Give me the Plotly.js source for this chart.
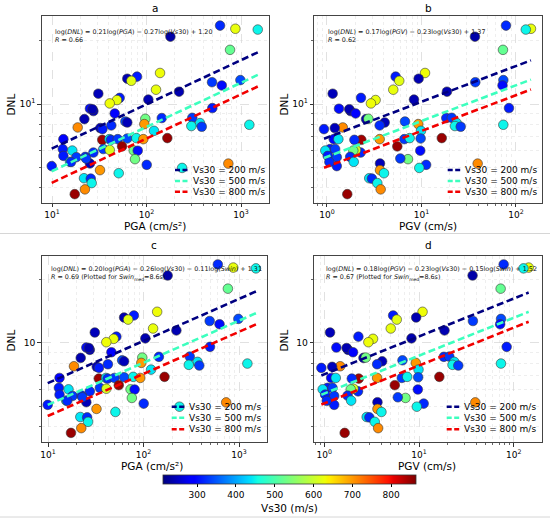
<!DOCTYPE html>
<html><head><meta charset="utf-8">
<script src="https://cdn.plot.ly/plotly-3.0.1.min.js"></script>
<style>body{margin:0;background:#fff}#chart{width:550px;height:521px}</style>
</head><body><div id="chart"></div>
<script>
// ---- data ----
const pga = [600, 871, 1503, 179, 765, 139, 79.3, 62.6, 69.0, 493, 984, 625, 126, 221, 30.9, 52.0, 48.7, 104.5, 40.8, 25.2,
  27.4, 26.8, 46.1, 22.0, 97.1, 145, 305, 59.7, 62.6, 94.8, 18.7, 42.4, 32.4, 34.2, 368, 298, 384, 1224, 497, 120,
  166, 13.2, 34.0, 40.4, 42.1, 49.6, 62.6, 78.0, 92.5, 55.1, 13.0, 16.4, 34.9, 27.4, 40.8, 73.2, 80.7, 13.2, 18.1, 75.5,
  22.5, 25.2, 15.5, 9.93, 100.5, 238, 734, 32.2, 50.8, 21.8, 25.7, 26.3, 22.3, 17.4, 15.9, 22.9];
const pgv = [78.4, 144, 127, 36.8, 72.8, 10.9, 5.33, 9.33, 5.82, 37.1, 73.5, 72.0, 5.03, 18.6, 1.149, 2.29, 3.27, 8.33, 2.92, 1.34,
  1.78, 1.72, 2.01, 2.59, 2.74, 18.3, 20.9, 6.69, 4.08, 9.25, 1.47, 3.61, 1.21, 0.93, 23.6, 22.6, 26.0, 73.4, 84.3, 9.88,
  16.4, 1.18, 2.31, 1.32, 1.95, 6.58, 9.8, 7.50, 3.61, 5.55, 1.08, 0.96, 1.22, 2.27, 2.03, 1.90, 9.71, 1.02, 1.27, 7.20,
  1.76, 3.64, 1.92, 1.27, 11.2, 9.48, 39.3, 3.64, 4.01, 2.80, 2.99, 3.41, 3.70, 1.64, 1.06, 5.97];
const dnl = [23.6, 22.8, 22.6, 20.9, 18.1, 14.05, 13.5, 13.2, 12.9, 12.7, 13.0, 12.26, 11.7, 11.45, 11.2, 10.7, 10.45, 10.5, 10.07, 9.50,
  9.26, 9.45, 9.02, 8.48, 8.51, 8.58, 8.60, 8.26, 8.17, 8.03, 7.74, 7.91, 7.69, 7.60, 8.12, 7.86, 7.80, 7.97, 9.57, 7.46,
  6.89, 6.81, 6.76, 6.81, 6.76, 6.81, 6.86, 6.89, 6.81, 6.29, 6.11, 6.01, 6.11, 5.88, 6.05, 6.01, 6.00, 5.67, 5.59, 5.47,
  5.61, 5.22, 5.31, 5.07, 5.14, 4.97, 5.21, 4.85, 4.69, 4.44, 4.42, 4.21, 3.93, 3.73, 5.30, 5.51];
const vs30 = [320, 625, 450, 235, 520, 630, 310, 240, 620, 330, 340, 300, 625, 240, 245, 310, 625, 240, 630, 300,
  245, 240, 290, 240, 530, 320, 330, 340, 245, 700, 710, 320, 245, 310, 440, 450, 330, 450, 310, 440,
  850, 290, 845, 440, 320, 330, 340, 450, 700, 850, 310, 440, 330, 320, 610, 530, 300, 310, 330, 530,
  320, 245, 440, 310, 320, 450, 710, 700, 450, 440, 320, 450, 710, 850, 320, 330];

const lineVs30 = [200, 500, 800];
const lineColors = ['#000080', '#3cffbe', '#f20000'];
// regression coefficients shown on the chart: [x, Vs30, Swin, constant]
const fitA = [0.21, -0.27, 0, 1.20];
const fitB = [0.17, -0.23, 0, 1.37];
const fitC = [0.20, -0.26, -0.11, 1.31];
const fitD = [0.18, -0.23, -0.15, 1.52];
const swinMed = 8.6;

const xTicksPGA = [10, 100, 1000];
const xTickTextPGA = ['10<sup>1</sup>', '10<sup>2</sup>', '10<sup>3</sup>'];
const xMinorPGA = [20, 30, 40, 50, 60, 70, 80, 90, 200, 300, 400, 500, 600, 700, 800, 900, 2000];
const xTicksPGV = [1, 10, 100];
const xTickTextPGV = ['10<sup>0</sup>', '10<sup>1</sup>', '10<sup>2</sup>'];
const xMinorPGV = [0.8, 0.9, 2, 3, 4, 5, 6, 7, 8, 9, 20, 30, 40, 50, 60, 70, 80, 90];
const yTicks = [10];
const yTickTextTop = ['10<sup>1</sup>'];
const yTickTextBottom = ['10'];
const yMinor = [3, 4, 5, 6, 7, 8, 9, 20];
const cbTicks = [300, 400, 500, 600, 700, 800];

const jet = [[0, 'rgb(0,0,128)'], [0.11, 'rgb(0,0,255)'], [0.125, 'rgb(0,0,255)'], [0.34, 'rgb(0,219,255)'],
  [0.35, 'rgb(0,229,246)'], [0.375, 'rgb(20,255,226)'], [0.64, 'rgb(238,255,8)'], [0.65, 'rgb(246,245,0)'],
  [0.66, 'rgb(255,236,0)'], [0.89, 'rgb(255,18,0)'], [0.91, 'rgb(231,0,0)'], [1, 'rgb(128,0,0)']];

const W = 550, H = 521;
const px = v => v / W, py = v => 1 - v / H;

function fitLine(xs, fit, vs) {
  const x0 = Math.min(...xs), x1 = Math.max(...xs);
  const f = x => Math.pow(10, fit[0] * Math.log10(x) + fit[1] * Math.log10(vs) + fit[2] * Math.log10(swinMed) + fit[3]);
  return {x: [x0, x1], y: [f(x0), f(x1)]};
}

const panels = [
  {xs: pga, fit: fitA, xa: 'x', ya: 'y', legX: 175, legY: [170, 181, 191.7]},
  {xs: pgv, fit: fitB, xa: 'x2', ya: 'y2', legX: 447.7, legY: [170, 181, 191.7]},
  {xs: pga, fit: fitC, xa: 'x3', ya: 'y3', legX: 171.7, legY: [406.7, 417.7, 429.3]},
  {xs: pgv, fit: fitD, xa: 'x4', ya: 'y4', legX: 446.7, legY: [406.7, 417.7, 429.3]}
];

const DASH = '7px,3.5px';
const traces = [];
panels.forEach(p => {
  traces.push({
    type: 'scatter', mode: 'markers', x: p.xs, y: dnl, xaxis: p.xa, yaxis: p.ya, showlegend: false,
    marker: {size: 9.6, color: vs30, coloraxis: 'coloraxis', line: {color: '#3a3a3a', width: 0.6}},
    hoverinfo: 'skip'
  });
});
panels.forEach(p => {
  lineVs30.forEach((v, i) => {
    const l = fitLine(p.xs, p.fit, v);
    traces.push({
      type: 'scatter', mode: 'lines', x: l.x, y: l.y, xaxis: p.xa, yaxis: p.ya,
      name: 'Vs30 = ' + v + ' m/s', showlegend: false,
      line: {color: lineColors[i], width: 2.6, dash: DASH}
    });
  });
});

function xax(dom, anchor, range, tv, tt, mv) {
  return {
    type: 'log', domain: dom, anchor: anchor, range: range,
    tickmode: 'array', tickvals: tv, ticktext: tt,
    ticks: 'outside', ticklen: 3.5, tickwidth: 0.8, tickcolor: '#000', tickfont: {size: 9},
    showline: true, mirror: true, linecolor: '#444', linewidth: 1,
    showgrid: true, gridcolor: '#d4d4d4', gridwidth: 0.7, griddash: 'dash',
    minor: {tickmode: 'array', tickvals: mv, ticks: 'outside', ticklen: 2,
      tickcolor: '#000', tickwidth: 0.6, showgrid: true, gridcolor: '#e2e2e2', gridwidth: 0.6, griddash: 'dot'},
    zeroline: false, automargin: false
  };
}
function yax(dom, anchor, range, tt) {
  return {
    type: 'log', domain: dom, anchor: anchor, range: range,
    tickmode: 'array', tickvals: yTicks, ticktext: tt,
    ticks: 'outside', ticklen: 3.5, tickwidth: 0.8, tickcolor: '#000', tickfont: {size: 9.2},
    showline: true, mirror: true, linecolor: '#444', linewidth: 1,
    showgrid: true, gridcolor: '#d4d4d4', gridwidth: 0.7, griddash: 'dash',
    minor: {tickmode: 'array', tickvals: yMinor, ticks: 'outside', ticklen: 2,
      tickcolor: '#000', tickwidth: 0.6, showgrid: true, gridcolor: '#e2e2e2', gridwidth: 0.6, griddash: 'dot'},
    zeroline: false, automargin: false
  };
}

const domAx = [px(41.7), px(269.3)], domBx = [px(314.3), px(541.7)];
const domCx = [px(41.7), px(266.7)], domDx = [px(314.3), px(541.7)];
const domTop = [py(202.7), py(15.7)], domBot = [py(442.3), py(256)];

const eqFont = {size: 6.4, color: '#111'};
const lab = {size: 10.5};
function note(text, x, y, extra) {
  return Object.assign({text: text, x: px(x), y: py(y), xanchor: 'center', yanchor: 'middle',
    xref: 'paper', yref: 'paper', showarrow: false, font: lab}, extra || {});
}
const annotations = [
  note('a', 155, 8.3), note('b', 428, 8.3), note('c', 154, 245), note('d', 428, 245),
  note('PGA (cm/s²)', 155, 226.5), note('PGV (cm/s)', 428, 226.5),
  note('PGA (cm/s²)', 152, 465.5), note('PGV (cm/s)', 426.5, 465.5),
  note('DNL', 10.5, 105, {textangle: -90}), note('DNL', 283.5, 105, {textangle: -90}),
  note('DNL', 10.5, 341, {textangle: -90}), note('DNL', 283.5, 341, {textangle: -90}),
  note('log(<i>DNL</i>) = 0.21log(<i>PGA</i>) − 0.27log(<i>Vs</i>30) + 1.20<br><i>R</i> = 0.66', 53, 25.5,
    {xanchor: 'left', yanchor: 'top', align: 'left', font: eqFont}),
  note('log(<i>DNL</i>) = 0.17log(<i>PGV</i>) − 0.23log(<i>Vs</i>30) + 1.37<br><i>R</i> = 0.62', 325.5, 25.5,
    {xanchor: 'left', yanchor: 'top', align: 'left', font: eqFont}),
  note('log(<i>DNL</i>) = 0.20log(<i>PGA</i>) − 0.26log(<i>Vs</i>30) − 0.11log(<i>Swin</i>) + 1.31<br><i>R</i> = 0.69 (Plotted for <i>Swin</i><sub>med</sub>=8.6s)', 49, 263,
    {xanchor: 'left', yanchor: 'top', align: 'left', font: eqFont}),
  note('log(<i>DNL</i>) = 0.18log(<i>PGV</i>) − 0.23log(<i>Vs</i>30) − 0.15log(<i>Swin</i>) + 1.52<br><i>R</i> = 0.67 (Plotted for <i>Swin</i><sub>med</sub>=8.6s)', 324, 263,
    {xanchor: 'left', yanchor: 'top', align: 'left', font: eqFont}),
  note('Vs30 (m/s)', 289.5, 507.5)
];

const shapes = [
  {type: 'line', xref: 'paper', yref: 'paper', x0: 0, x1: 1, y0: py(233.5), y1: py(233.5), line: {color: '#d6d6d6', width: 1}},
  {type: 'line', xref: 'paper', yref: 'paper', x0: 0, x1: 1, y0: py(517), y1: py(517), line: {color: '#d6d6d6', width: 1}}
];

// legend drawn compactly (key line + label) inside each panel
panels.forEach(p => {
  lineVs30.forEach((v, i) => {
    const yy = p.legY[i];
    shapes.push({type: 'line', xref: 'paper', yref: 'paper', x0: px(p.legX), x1: px(p.legX + 14), y0: py(yy), y1: py(yy),
      line: {color: lineColors[i], width: 2.6, dash: '5px,2.5px'}});
    annotations.push(note('Vs30 = ' + v + ' m/s', p.legX + 15.5, yy, {xanchor: 'left', font: {size: 9}}));
  });
});

const layout = {
  width: W, height: H, margin: {l: 0, r: 0, t: 0, b: 0}, paper_bgcolor: '#fff', plot_bgcolor: '#fff',
  font: {family: 'DejaVu Sans, sans-serif', color: '#000'}, showlegend: false,
  xaxis: xax(domAx, 'y', [0.891, 3.299], xTicksPGA, xTickTextPGA, xMinorPGA),
  xaxis2: xax(domBx, 'y2', [-0.134, 2.272], xTicksPGV, xTickTextPGV, xMinorPGV),
  xaxis3: xax(domCx, 'y3', [0.934, 3.29], xTicksPGA, xTickTextPGA, xMinorPGA),
  xaxis4: xax(domDx, 'y4', [-0.106, 2.296], xTicksPGV, xTickTextPGV, xMinorPGV),
  yaxis: yax(domTop, 'x', [0.531, 1.42], yTickTextTop),
  yaxis2: yax(domTop, 'x2', [0.531, 1.42], yTickTextTop),
  yaxis3: yax(domBot, 'x3', [0.527, 1.413], yTickTextBottom),
  yaxis4: yax(domBot, 'x4', [0.527, 1.413], yTickTextBottom),
  coloraxis: {
    colorscale: jet, cmin: 212, cmax: 864,
    colorbar: {orientation: 'h', thickness: 9, len: 253, lenmode: 'pixels', x: px(289.5), xanchor: 'center',
      y: py(474.5), yanchor: 'top', xpad: 0, ypad: 0, outlinewidth: 0.8, outlinecolor: '#333',
      ticks: 'outside', ticklen: 3, tickcolor: '#000', tickvals: cbTicks, tickfont: {size: 9}}
  },
  shapes: shapes,
  annotations: annotations
};

Plotly.newPlot('chart', traces, layout, {staticPlot: true, displayModeBar: false});
</script>
</body></html>
